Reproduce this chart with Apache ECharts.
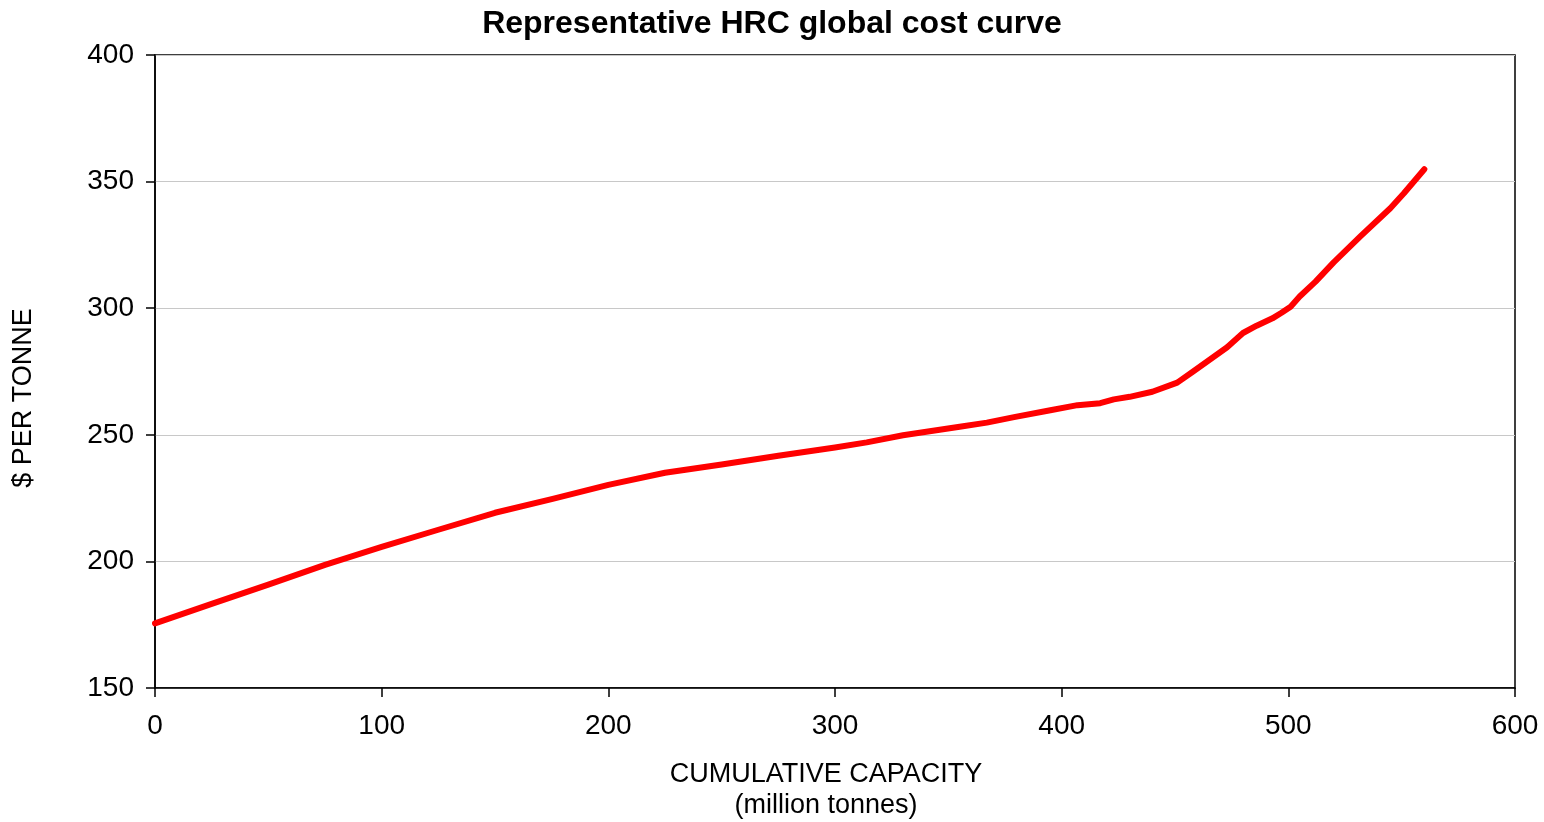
<!DOCTYPE html>
<html>
<head>
<meta charset="utf-8">
<title>Representative HRC global cost curve</title>
<script src="https://cdn.jsdelivr.net/npm/echarts@6/dist/echarts.min.js"></script>
<style>
  html, body { margin: 0; padding: 0; background: #fff; }
  #chart { width: 1544px; height: 822px; }
</style>
</head>
<body>
<div id="chart"></div>
<script>
// Cumulative capacity (million tonnes) and cost ($ per tonne)
const capacity = [0, 25, 50, 75, 100, 125, 150, 175, 200, 225, 250, 275, 300, 314, 330, 355, 367, 379, 395, 407, 417, 423, 430, 440, 451, 458, 473, 480, 486, 493, 497, 501, 505, 512, 520, 532, 545, 551, 560];
const cost     = [175.5, 183.2, 190.8, 198.6, 205.7, 212.5, 219.2, 224.6, 230.2, 235.0, 238.3, 241.7, 245.0, 247.0, 249.8, 253.2, 254.8, 257.0, 259.7, 261.7, 262.5, 264.0, 265.0, 267.0, 270.6, 275.0, 284.6, 290.2, 293.1, 296.0, 298.2, 300.6, 304.6, 310.5, 318.1, 328.6, 339.5, 345.4, 354.9];

const xTicks = [0, 100, 200, 300, 400, 500, 600];
const yTicks = [150, 200, 250, 300, 350, 400];

const chartTitle = 'Representative HRC global cost curve';
const xName = 'CUMULATIVE CAPACITY\n(million tonnes)';
const yName = '$ PER TONNE';

const FONT = '"Liberation Sans", Arial, sans-serif';

const chart = echarts.init(document.getElementById('chart'), null, { renderer: 'canvas' });

chart.setOption({
  backgroundColor: '#ffffff',
  animation: false,
  title: {
    text: chartTitle,
    left: 767,
    textAlign: 'center',
    top: 3,
    textStyle: { fontFamily: FONT, fontSize: 32, fontWeight: 'bold', color: '#000' }
  },
  grid: {
    left: 155, right: 29, top: 55, bottom: 134,
    show: true, borderColor: '#000', borderWidth: 1.5, backgroundColor: 'transparent'
  },
  xAxis: {
    type: 'value',
    min: xTicks[0], max: xTicks[xTicks.length - 1], interval: 100,
    axisLine: { show: true, lineStyle: { color: '#000', width: 1.5 } },
    axisTick: { show: true, length: 9, lineStyle: { color: '#000', width: 1.5 } },
    axisLabel: { margin: 24, fontFamily: FONT, fontSize: 28, color: '#000' },
    splitLine: { show: false }
  },
  yAxis: {
    type: 'value',
    min: yTicks[0], max: yTicks[yTicks.length - 1], interval: 50,
    axisLine: { show: true, lineStyle: { color: '#000', width: 1.5 } },
    axisTick: { show: true, length: 9, lineStyle: { color: '#000', width: 1.5 } },
    axisLabel: { margin: 21, fontFamily: FONT, fontSize: 28, color: '#000', padding: [4, 0, 0, 0] },
    splitLine: { show: true, lineStyle: { color: '#c8c8c8', width: 1 } }
  },
  graphic: [
    {
      type: 'text',
      x: 826, y: 790,
      style: {
        text: xName, fontFamily: FONT, fontSize: 27, fill: '#000',
        align: 'center', verticalAlign: 'middle', lineHeight: 31
      }
    },
    {
      type: 'text',
      x: 24, y: 398, rotation: Math.PI / 2,
      style: {
        text: yName, fontFamily: FONT, fontSize: 27, fill: '#000',
        align: 'center', verticalAlign: 'middle'
      }
    }
  ],
  series: [{
    type: 'line',
    data: capacity.map((c, i) => [c, cost[i]]),
    showSymbol: false,
    smooth: false,
    lineStyle: { color: '#ff0000', width: 6, cap: 'round', join: 'round' }
  }]
});
</script>
</body>
</html>
